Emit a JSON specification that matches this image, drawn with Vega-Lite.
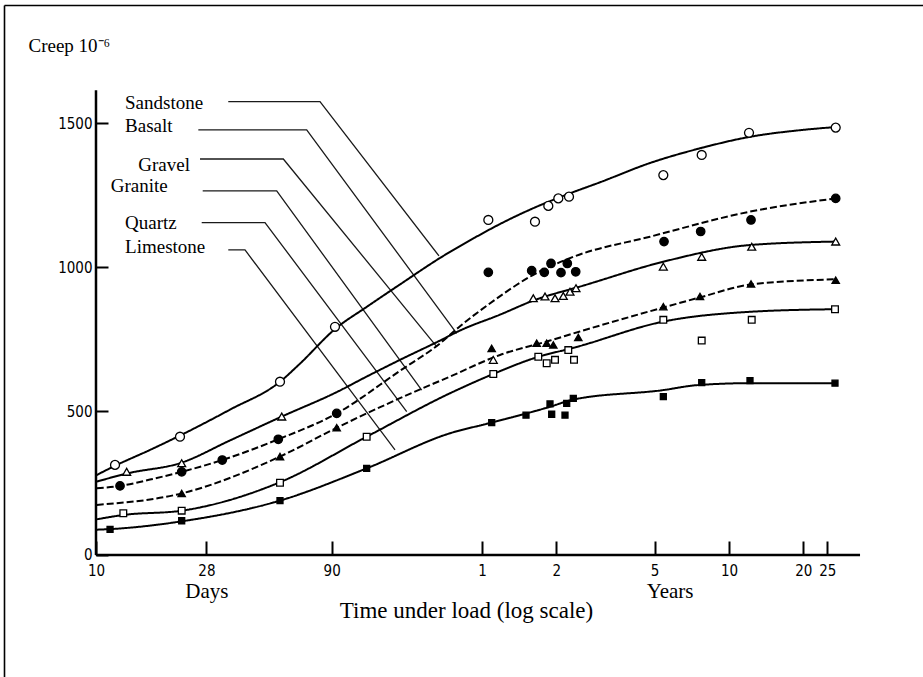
{
  "$schema": "https://vega.github.io/schema/vega-lite/v6.json",
  "width": 919,
  "height": 672,
  "autosize": {"type": "none"},
  "padding": {"left": 4, "top": 5, "right": 0, "bottom": 0},
  "background": "white",
  "config": {
    "view": {"stroke": null, "fill": "white"},
    "font": "Liberation Serif"
  },
  "datasets": {
    "curves": [
      {"rock": "Sandstone", "days": 10.07, "creep": 278},
      {"rock": "Sandstone", "days": 11.94, "creep": 310},
      {"rock": "Sandstone", "days": 16.54, "creep": 365},
      {"rock": "Sandstone", "days": 21.88, "creep": 415},
      {"rock": "Sandstone", "days": 34.86, "creep": 505},
      {"rock": "Sandstone", "days": 55.58, "creep": 602},
      {"rock": "Sandstone", "days": 66.98, "creep": 665},
      {"rock": "Sandstone", "days": 92.8, "creep": 785},
      {"rock": "Sandstone", "days": 124.7, "creep": 862},
      {"rock": "Sandstone", "days": 170.1, "creep": 940},
      {"rock": "Sandstone", "days": 247, "creep": 1032},
      {"rock": "Sandstone", "days": 342.2, "creep": 1103},
      {"rock": "Sandstone", "days": 432.1, "creep": 1150},
      {"rock": "Sandstone", "days": 589.4, "creep": 1205},
      {"rock": "Sandstone", "days": 792.1, "creep": 1250},
      {"rock": "Sandstone", "days": 1098, "creep": 1295},
      {"rock": "Sandstone", "days": 1750, "creep": 1362},
      {"rock": "Sandstone", "days": 2788, "creep": 1413},
      {"rock": "Sandstone", "days": 4444, "creep": 1453},
      {"rock": "Sandstone", "days": 7083, "creep": 1476},
      {"rock": "Sandstone", "days": 9880, "creep": 1487},

      {"rock": "Basalt", "days": 10.07, "creep": 232},
      {"rock": "Basalt", "days": 12.51, "creep": 240},
      {"rock": "Basalt", "days": 16.54, "creep": 262},
      {"rock": "Basalt", "days": 22.23, "creep": 289},
      {"rock": "Basalt", "days": 32.45, "creep": 330},
      {"rock": "Basalt", "days": 54.71, "creep": 402},
      {"rock": "Basalt", "days": 94.3, "creep": 492},
      {"rock": "Basalt", "days": 170.1, "creep": 640},
      {"rock": "Basalt", "days": 247, "creep": 735},
      {"rock": "Basalt", "days": 297.7, "creep": 795},
      {"rock": "Basalt", "days": 387.6, "creep": 870},
      {"rock": "Basalt", "days": 571.6, "creep": 967},
      {"rock": "Basalt", "days": 855.9, "creep": 1036},
      {"rock": "Basalt", "days": 1750, "creep": 1106},
      {"rock": "Basalt", "days": 4444, "creep": 1193},
      {"rock": "Basalt", "days": 9880, "creep": 1239},

      {"rock": "Gravel", "days": 10.07, "creep": 255},
      {"rock": "Gravel", "days": 13.31, "creep": 283},
      {"rock": "Gravel", "days": 22.23, "creep": 321},
      {"rock": "Gravel", "days": 34.86, "creep": 398},
      {"rock": "Gravel", "days": 56.5, "creep": 481},
      {"rock": "Gravel", "days": 94.3, "creep": 566},
      {"rock": "Gravel", "days": 124.7, "creep": 620},
      {"rock": "Gravel", "days": 170.1, "creep": 678},
      {"rock": "Gravel", "days": 247, "creep": 745},
      {"rock": "Gravel", "days": 297.7, "creep": 780},
      {"rock": "Gravel", "days": 432.1, "creep": 835},
      {"rock": "Gravel", "days": 589.4, "creep": 884},
      {"rock": "Gravel", "days": 939.7, "creep": 936},
      {"rock": "Gravel", "days": 1981, "creep": 1019},
      {"rock": "Gravel", "days": 4444, "creep": 1077},
      {"rock": "Gravel", "days": 9880, "creep": 1089},

      {"rock": "Granite", "days": 10.07, "creep": 174},
      {"rock": "Granite", "days": 22.23, "creep": 214},
      {"rock": "Granite", "days": 55.58, "creep": 342},
      {"rock": "Granite", "days": 94.3, "creep": 442},
      {"rock": "Granite", "days": 170.1, "creep": 545},
      {"rock": "Granite", "days": 271.2, "creep": 620},
      {"rock": "Granite", "days": 432.1, "creep": 695},
      {"rock": "Granite", "days": 688.8, "creep": 745},
      {"rock": "Granite", "days": 896.7, "creep": 775},
      {"rock": "Granite", "days": 1981, "creep": 860},
      {"rock": "Granite", "days": 2788, "creep": 895},
      {"rock": "Granite", "days": 4486, "creep": 940},
      {"rock": "Granite", "days": 9880, "creep": 958},

      {"rock": "Quartz", "days": 10.07, "creep": 124},
      {"rock": "Quartz", "days": 12.9, "creep": 139},
      {"rock": "Quartz", "days": 22.23, "creep": 154},
      {"rock": "Quartz", "days": 55.58, "creep": 253},
      {"rock": "Quartz", "days": 124.7, "creep": 411},
      {"rock": "Quartz", "days": 271.2, "creep": 562},
      {"rock": "Quartz", "days": 406, "creep": 629},
      {"rock": "Quartz", "days": 589.4, "creep": 683},
      {"rock": "Quartz", "days": 883.6, "creep": 723},
      {"rock": "Quartz", "days": 1981, "creep": 811},
      {"rock": "Quartz", "days": 4444, "creep": 845},
      {"rock": "Quartz", "days": 9815, "creep": 854},

      {"rock": "Limestone", "days": 10.07, "creep": 88},
      {"rock": "Limestone", "days": 11.4, "creep": 90},
      {"rock": "Limestone", "days": 22.23, "creep": 117},
      {"rock": "Limestone", "days": 55.58, "creep": 189},
      {"rock": "Limestone", "days": 124.7, "creep": 301},
      {"rock": "Limestone", "days": 271.2, "creep": 423},
      {"rock": "Limestone", "days": 400, "creep": 460},
      {"rock": "Limestone", "days": 688.8, "creep": 515},
      {"rock": "Limestone", "days": 855.9, "creep": 540},
      {"rock": "Limestone", "days": 1981, "creep": 573},
      {"rock": "Limestone", "days": 2704, "creep": 590},
      {"rock": "Limestone", "days": 4444, "creep": 597},
      {"rock": "Limestone", "days": 9815, "creep": 597}
    ],
    "points": [
      {"rock": "Sandstone", "days": 11.94, "creep": 313},
      {"rock": "Sandstone", "days": 21.88, "creep": 411},
      {"rock": "Sandstone", "days": 55.58, "creep": 602},
      {"rock": "Sandstone", "days": 92.8, "creep": 793},
      {"rock": "Sandstone", "days": 387.6, "creep": 1164},
      {"rock": "Sandstone", "days": 598.8, "creep": 1158},
      {"rock": "Sandstone", "days": 678, "creep": 1213},
      {"rock": "Sandstone", "days": 744.2, "creep": 1239},
      {"rock": "Sandstone", "days": 822.2, "creep": 1245},
      {"rock": "Sandstone", "days": 1981, "creep": 1320},
      {"rock": "Sandstone", "days": 2833, "creep": 1390},
      {"rock": "Sandstone", "days": 4403, "creep": 1467},
      {"rock": "Sandstone", "days": 9880, "creep": 1485},

      {"rock": "Basalt", "days": 12.51, "creep": 240},
      {"rock": "Basalt", "days": 22.23, "creep": 289},
      {"rock": "Basalt", "days": 32.45, "creep": 330},
      {"rock": "Basalt", "days": 54.71, "creep": 402},
      {"rock": "Basalt", "days": 94.3, "creep": 492},
      {"rock": "Basalt", "days": 387.6, "creep": 982},
      {"rock": "Basalt", "days": 580.7, "creep": 988},
      {"rock": "Basalt", "days": 653.1, "creep": 982},
      {"rock": "Basalt", "days": 695.2, "creep": 1013},
      {"rock": "Basalt", "days": 763.1, "creep": 981},
      {"rock": "Basalt", "days": 809.3, "creep": 1013},
      {"rock": "Basalt", "days": 875.3, "creep": 984},
      {"rock": "Basalt", "days": 1994, "creep": 1089},
      {"rock": "Basalt", "days": 2806, "creep": 1124},
      {"rock": "Basalt", "days": 4486, "creep": 1164},
      {"rock": "Basalt", "days": 9880, "creep": 1239},

      {"rock": "Gravel", "days": 13.31, "creep": 289},
      {"rock": "Gravel", "days": 22.23, "creep": 319},
      {"rock": "Gravel", "days": 56.5, "creep": 481},
      {"rock": "Gravel", "days": 406, "creep": 678},
      {"rock": "Gravel", "days": 589.4, "creep": 892},
      {"rock": "Gravel", "days": 657.4, "creep": 898},
      {"rock": "Gravel", "days": 721.7, "creep": 892},
      {"rock": "Gravel", "days": 779.6, "creep": 900},
      {"rock": "Gravel", "days": 829.9, "creep": 915},
      {"rock": "Gravel", "days": 877.7, "creep": 927},
      {"rock": "Gravel", "days": 1981, "creep": 1002},
      {"rock": "Gravel", "days": 2833, "creep": 1036},
      {"rock": "Gravel", "days": 4516, "creep": 1071},
      {"rock": "Gravel", "days": 9880, "creep": 1089},

      {"rock": "Granite", "days": 22.23, "creep": 214},
      {"rock": "Granite", "days": 55.58, "creep": 342},
      {"rock": "Granite", "days": 94.3, "creep": 442},
      {"rock": "Granite", "days": 400, "creep": 718},
      {"rock": "Granite", "days": 608.4, "creep": 736},
      {"rock": "Granite", "days": 667.9, "creep": 736},
      {"rock": "Granite", "days": 710.3, "creep": 730},
      {"rock": "Granite", "days": 896.7, "creep": 756},
      {"rock": "Granite", "days": 1981, "creep": 863},
      {"rock": "Granite", "days": 2788, "creep": 898},
      {"rock": "Granite", "days": 4486, "creep": 942},
      {"rock": "Granite", "days": 9880, "creep": 955},

      {"rock": "Quartz", "days": 12.9, "creep": 145},
      {"rock": "Quartz", "days": 22.23, "creep": 154},
      {"rock": "Quartz", "days": 55.58, "creep": 251},
      {"rock": "Quartz", "days": 124.7, "creep": 411},
      {"rock": "Quartz", "days": 406, "creep": 629},
      {"rock": "Quartz", "days": 617.6, "creep": 689},
      {"rock": "Quartz", "days": 667.9, "creep": 666},
      {"rock": "Quartz", "days": 721.7, "creep": 678},
      {"rock": "Quartz", "days": 816.8, "creep": 712},
      {"rock": "Quartz", "days": 861.5, "creep": 678},
      {"rock": "Quartz", "days": 1981, "creep": 817},
      {"rock": "Quartz", "days": 2833, "creep": 745},
      {"rock": "Quartz", "days": 4516, "creep": 817},
      {"rock": "Quartz", "days": 9815, "creep": 854},

      {"rock": "Limestone", "days": 11.4, "creep": 89},
      {"rock": "Limestone", "days": 22.23, "creep": 119},
      {"rock": "Limestone", "days": 55.58, "creep": 189},
      {"rock": "Limestone", "days": 124.7, "creep": 301},
      {"rock": "Limestone", "days": 400, "creep": 460},
      {"rock": "Limestone", "days": 550.7, "creep": 486},
      {"rock": "Limestone", "days": 688.8, "creep": 525},
      {"rock": "Limestone", "days": 699.7, "creep": 489},
      {"rock": "Limestone", "days": 792.1, "creep": 486},
      {"rock": "Limestone", "days": 804.8, "creep": 527},
      {"rock": "Limestone", "days": 855.9, "creep": 544},
      {"rock": "Limestone", "days": 1981, "creep": 550},
      {"rock": "Limestone", "days": 2833, "creep": 599},
      {"rock": "Limestone", "days": 4444, "creep": 606},
      {"rock": "Limestone", "days": 9815, "creep": 597}
    ],
    "labels": [
      {"rock": "Sandstone", "days": 13.11, "creep": 1548},
      {"rock": "Basalt", "days": 13.11, "creep": 1471},
      {"rock": "Gravel", "days": 14.83, "creep": 1335},
      {"rock": "Granite", "days": 11.47, "creep": 1262},
      {"rock": "Quartz", "days": 13.11, "creep": 1132},
      {"rock": "Limestone", "days": 13.11, "creep": 1048}
    ],
    "leaders": [
      {"rock": "Sandstone", "days": 34.32, "creep": 1575},
      {"rock": "Sandstone", "days": 80.7, "creep": 1575},
      {"rock": "Sandstone", "days": 244.7, "creep": 1039},
      {"rock": "Basalt", "days": 25.96, "creep": 1477},
      {"rock": "Basalt", "days": 71.29, "creep": 1477},
      {"rock": "Basalt", "days": 288.6, "creep": 770},
      {"rock": "Gravel", "days": 26.37, "creep": 1376},
      {"rock": "Gravel", "days": 57.33, "creep": 1376},
      {"rock": "Gravel", "days": 239.5, "creep": 724},
      {"rock": "Granite", "days": 27.04, "creep": 1265},
      {"rock": "Granite", "days": 53.9, "creep": 1265},
      {"rock": "Granite", "days": 208.3, "creep": 573},
      {"rock": "Quartz", "days": 26.79, "creep": 1155},
      {"rock": "Quartz", "days": 48.33, "creep": 1155},
      {"rock": "Quartz", "days": 181.1, "creep": 498},
      {"rock": "Limestone", "days": 34.32, "creep": 1060},
      {"rock": "Limestone", "days": 40.11, "creep": 1060},
      {"rock": "Limestone", "days": 162.4, "creep": 365}
    ]
  },
  "layer": [
    {
      "description": "Leader lines from the rock names to their curves; this layer also carries the outer frame (top and left edges)",
      "data": {"name": "leaders"},
      "mark": {"type": "line", "color": "#1a1a1a", "strokeWidth": 1.3},
      "encoding": {
        "x": {
          "field": "days",
          "type": "quantitative",
          "axis": {"orient": "top", "offset": 0, "domain": true, "domainColor": "black", "domainWidth": 1.6, "ticks": false, "labels": false, "grid": false, "title": null}
        },
        "y": {
          "field": "creep",
          "type": "quantitative",
          "axis": {"orient": "left", "offset": 0, "domain": true, "domainColor": "black", "domainWidth": 1.6, "ticks": false, "labels": false, "grid": false, "title": null}
        },
        "detail": {"field": "rock"}
      }
    },
    {
      "description": "Fitted creep curves",
      "data": {"name": "curves"},
      "mark": {"type": "line", "color": "black", "strokeWidth": 2, "interpolate": "monotone"},
      "encoding": {
        "x": {
          "field": "days",
          "type": "quantitative",
          "scale": {"type": "log", "domain": [4.2418, 22294], "nice": false},
          "axis": {
            "orient": "bottom",
            "offset": -122,
            "values": [10, 28, 90, 365.25, 730.5, 1826.25, 3652.5, 7305, 9131.25],
            "labelExpr": "datum.value < 100 ? format(datum.value, 'd') : format(round(datum.value / 365.25), 'd')",
            "domain": false,
            "grid": false,
            "tickSize": -14,
            "tickWidth": 2,
            "tickColor": "black",
            "labelPadding": 22,
            "labelFont": "Liberation Sans Narrow, DejaVu Sans Condensed, Liberation Sans",
            "labelFontSize": 15,
            "labelColor": "black",
            "labelFlush": false,
            "labelOverlap": false,
            "labelBound": false,
            "title": "Time under load (log scale)",
            "titleX": 462,
            "titleY": 62,
            "titleAlign": "center",
            "titleBaseline": "alphabetic",
            "titleFont": "Liberation Serif",
            "titleFontSize": 23,
            "titleFontWeight": "normal",
            "titleColor": "black"
          }
        },
        "y": {
          "field": "creep",
          "type": "quantitative",
          "scale": {"domain": [-423.9, 1911.0], "nice": false, "zero": false},
          "axis": {
            "orient": "left",
            "offset": -92,
            "values": [0, 500, 1000, 1500],
            "format": "d",
            "domain": false,
            "grid": false,
            "tickSize": -12,
            "tickWidth": 2,
            "tickColor": "black",
            "labelPadding": 16,
            "labelFont": "Liberation Sans Narrow, DejaVu Sans Condensed, Liberation Sans",
            "labelFontSize": 15,
            "labelColor": "black",
            "labelBound": false,
            "labelFlush": false,
            "title": "Creep 10⁻⁶",
            "titleAngle": 0,
            "titleX": -68,
            "titleY": 46,
            "titleAlign": "left",
            "titleBaseline": "alphabetic",
            "titleFont": "Liberation Serif",
            "titleFontSize": 19,
            "titleFontWeight": "normal",
            "titleColor": "black"
          }
        },
        "detail": {"field": "rock"},
        "strokeDash": {
          "field": "rock",
          "type": "nominal",
          "scale": {
            "domain": ["Sandstone", "Basalt", "Gravel", "Granite", "Quartz", "Limestone"],
            "range": [[1, 0], [7, 3], [1, 0], [7, 3], [1, 0], [1, 0]]
          },
          "legend": null
        }
      }
    },
    {
      "description": "Axis lines of the plot",
      "data": {"values": [{}]},
      "mark": {"type": "rule", "color": "black", "strokeWidth": 2.5},
      "encoding": {
        "x": {"datum": 10, "type": "quantitative", "axis": null},
        "x2": {"datum": 12395},
        "y": {"datum": 0, "type": "quantitative", "axis": null}
      }
    },
    {
      "data": {"values": [{}]},
      "mark": {"type": "rule", "color": "black", "strokeWidth": 2.5},
      "encoding": {
        "x": {"datum": 10, "type": "quantitative", "axis": null},
        "y": {"datum": 0, "type": "quantitative", "axis": null},
        "y2": {"datum": 1615}
      }
    },
    {
      "description": "Measured creep values",
      "data": {"name": "points"},
      "mark": {"type": "point", "filled": true, "stroke": "black", "strokeWidth": 1.3, "opacity": 1},
      "encoding": {
        "x": {
          "field": "days",
          "type": "quantitative",
          "axis": {
            "orient": "bottom",
            "offset": -122,
            "values": [28, 2100],
            "labelExpr": "datum.value < 100 ? 'Days' : 'Years'",
            "ticks": false,
            "domain": false,
            "grid": false,
            "labelPadding": 25,
            "labelFont": "Liberation Serif",
            "labelFontSize": 21,
            "labelColor": "black",
            "labelFlush": false,
            "labelBound": false,
            "labelOverlap": false,
            "title": null
          }
        },
        "y": {"field": "creep", "type": "quantitative", "axis": null},
        "shape": {
          "field": "rock",
          "type": "nominal",
          "scale": {
            "domain": ["Sandstone", "Basalt", "Gravel", "Granite", "Quartz", "Limestone"],
            "range": ["circle", "circle", "triangle-up", "triangle-up", "square", "square"]
          },
          "legend": null
        },
        "fill": {
          "field": "rock",
          "type": "nominal",
          "scale": {
            "domain": ["Sandstone", "Basalt", "Gravel", "Granite", "Quartz", "Limestone"],
            "range": ["white", "black", "white", "black", "white", "black"]
          },
          "legend": null
        },
        "size": {
          "field": "rock",
          "type": "nominal",
          "scale": {
            "domain": ["Sandstone", "Basalt", "Gravel", "Granite", "Quartz", "Limestone"],
            "range": [80, 36, 50, 30, 45, 36]
          },
          "legend": null
        }
      }
    },
    {
      "description": "Rock names",
      "data": {"name": "labels"},
      "mark": {"type": "text", "align": "left", "baseline": "alphabetic", "font": "Liberation Serif", "fontSize": 19, "color": "black"},
      "encoding": {
        "x": {"field": "days", "type": "quantitative", "axis": null},
        "y": {"field": "creep", "type": "quantitative", "axis": null},
        "text": {"field": "rock"}
      }
    }
  ],
  "resolve": {"axis": {"x": "independent", "y": "independent"}}
}
